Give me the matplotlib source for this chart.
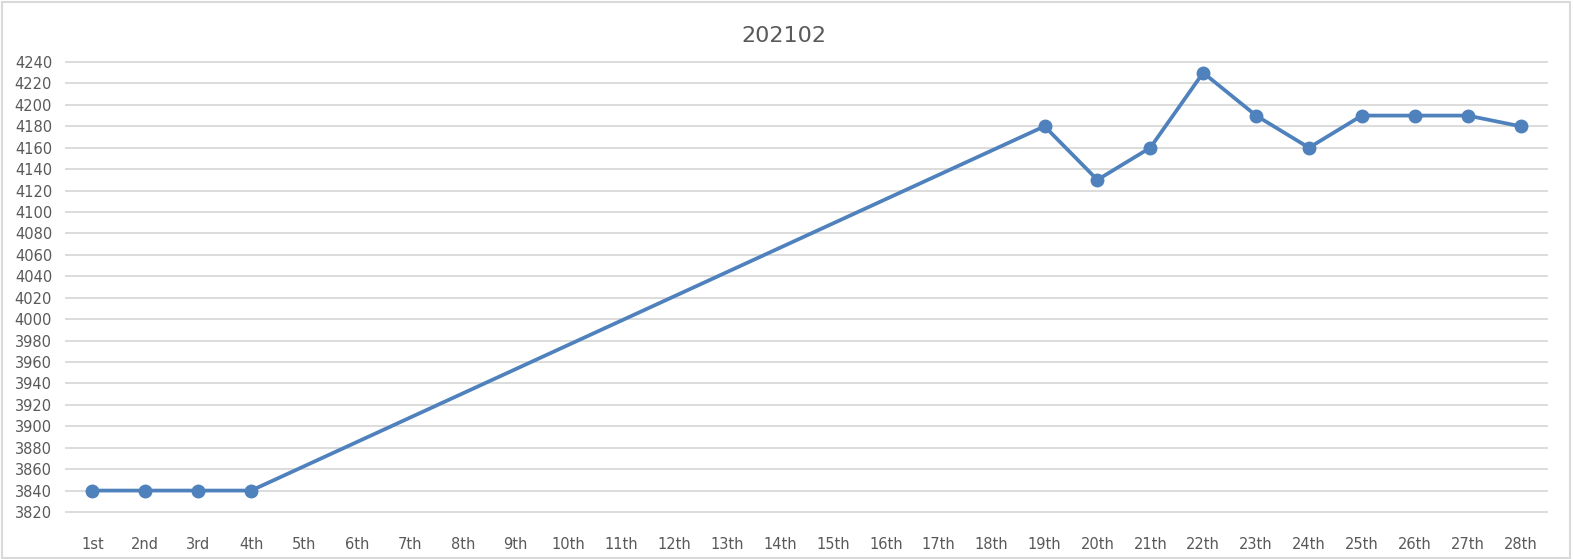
import matplotlib.pyplot as plt
import numpy as np
from matplotlib.patches import Rectangle

days = ['1st', '2nd', '3rd', '4th', '5th', '6th', '7th', '8th', '9th', '10th',
        '11th', '12th', '13th', '14th', '15th', '16th', '17th', '18th', '19th',
        '20th', '21th', '22th', '23th', '24th', '25th', '26th', '27th', '28th']
values = [3840, 3840, 3840, 3840, None, None, None, None, None, None,
          None, None, None, None, None, None, None, None, 4180,
          4130, 4160, 4230, 4190, 4160, 4190, 4190, 4190, 4180]
yticks = np.arange(3820, 4241, 20)


def plot_it():
    fig = plt.figure(figsize=(15.73, 5.59), dpi=100)
    ax = fig.add_axes([66 / 1573, 1 - 512 / 559, (1547 - 66) / 1573, (512 - 62) / 559])

    x = np.arange(len(days))
    y = np.array([np.nan if v is None else v for v in values])
    ok = ~np.isnan(y)
    # gaps are bridged, like Excel's "connect data points with line"
    ax.plot(x[ok], y[ok], color='#4f81bd', lw=2.7, marker='o', ms=9,
            solid_joinstyle='round', zorder=3)

    ax.set_xlim(-0.5, len(days) - 0.5)
    ax.set_ylim(3820, 4240)
    ax.set_yticks(yticks)
    ax.set_xticks(x)
    ax.set_xticklabels(days)
    ax.grid(axis='y', color='#d9d9d9', lw=1.3)
    for gl in ax.get_ygridlines():
        gl.set_clip_on(False)
    ax.set_axisbelow(True)
    for s in ax.spines.values():
        s.set_visible(False)
    ax.tick_params(length=0, labelsize=10.5, labelcolor='#595959')
    ax.tick_params(axis='x', pad=18)
    ax.tick_params(axis='y', pad=10)

    fig.text(784 / 1573, 1 - 36 / 559, '202102', ha='center', va='center',
             fontsize=16, color='#595959')
    fig.patches.append(Rectangle((0.001, 0.002), 0.997, 0.995, transform=fig.transFigure,
                                 fill=False, ec='#d9d9d9', lw=1.5))

    fig.savefig('out.png', dpi=100)


plot_it()
